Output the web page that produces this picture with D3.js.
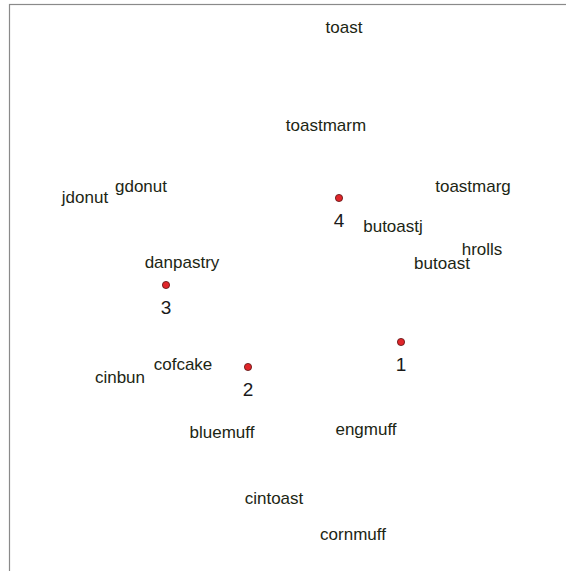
<!DOCTYPE html>
<html><head><meta charset="utf-8">
<script src="https://cdn.jsdelivr.net/npm/d3@7"></script>
<style>html,body{margin:0;padding:0;background:#fff;}svg{display:block;}</style>
</head><body>
<svg id="chart" width="566" height="571"></svg>
<script>
const itemNames = ["toast","toastmarm","gdonut","jdonut","toastmarg","butoastj","hrolls","butoast","danpastry","cofcake","cinbun","bluemuff","engmuff","cintoast","cornmuff"];
const itemX = [0.61,0.43,-1.42,-1.98,1.90,1.10,1.99,1.59,-1.01,-1.00,-1.63,-0.61,0.83,-0.09,0.70];
const itemY = [2.58,1.60,0.99,0.88,0.99,0.59,0.36,0.22,0.23,-0.79,-0.92,-1.47,-1.44,-2.13,-2.49];
const clusterLabels = ["1","2","3","4"];
const clusterX = [1.18,-0.35,-1.17,0.56];
const clusterY = [-0.57,-0.82,0.00,0.87];

const svg = d3.select("#chart");
const x = d3.scaleLinear().domain([-2.74, 2.83]).range([9, 566]);
const y = d3.scaleLinear().domain([2.81, -2.86]).range([4, 571]);

svg.append("rect").attr("x", 9.5).attr("y", 4.5).attr("width", 600).attr("height", 600)
  .attr("fill", "none").attr("stroke", "#8a8a8a").attr("stroke-width", 1.2);

const items = itemNames.map((n, i) => ({n, x: itemX[i], y: itemY[i]}));
svg.selectAll("text.item").data(items).join("text").attr("class", "item")
  .attr("x", d => x(d.x)).attr("y", d => y(d.y)).attr("dy", "0.35em")
  .attr("text-anchor", "middle").attr("font-family", "Liberation Sans, Arial, sans-serif")
  .attr("font-size", 17).attr("fill", "#1c2614").text(d => d.n);

const clusters = clusterLabels.map((n, i) => ({n, x: clusterX[i], y: clusterY[i]}));
svg.selectAll("circle.c").data(clusters).join("circle").attr("class", "c")
  .attr("cx", d => x(d.x)).attr("cy", d => y(d.y)).attr("r", 3.6)
  .attr("fill", "#e0262a").attr("stroke", "#5a1010").attr("stroke-width", 0.8);
svg.selectAll("text.cl").data(clusters).join("text").attr("class", "cl")
  .attr("x", d => x(d.x)).attr("y", d => y(d.y) + 22).attr("dy", "0.35em")
  .attr("text-anchor", "middle").attr("font-family", "Liberation Sans, Arial, sans-serif")
  .attr("font-size", 19).attr("fill", "#1a1a1a").text(d => d.n);
</script>
</body></html>
